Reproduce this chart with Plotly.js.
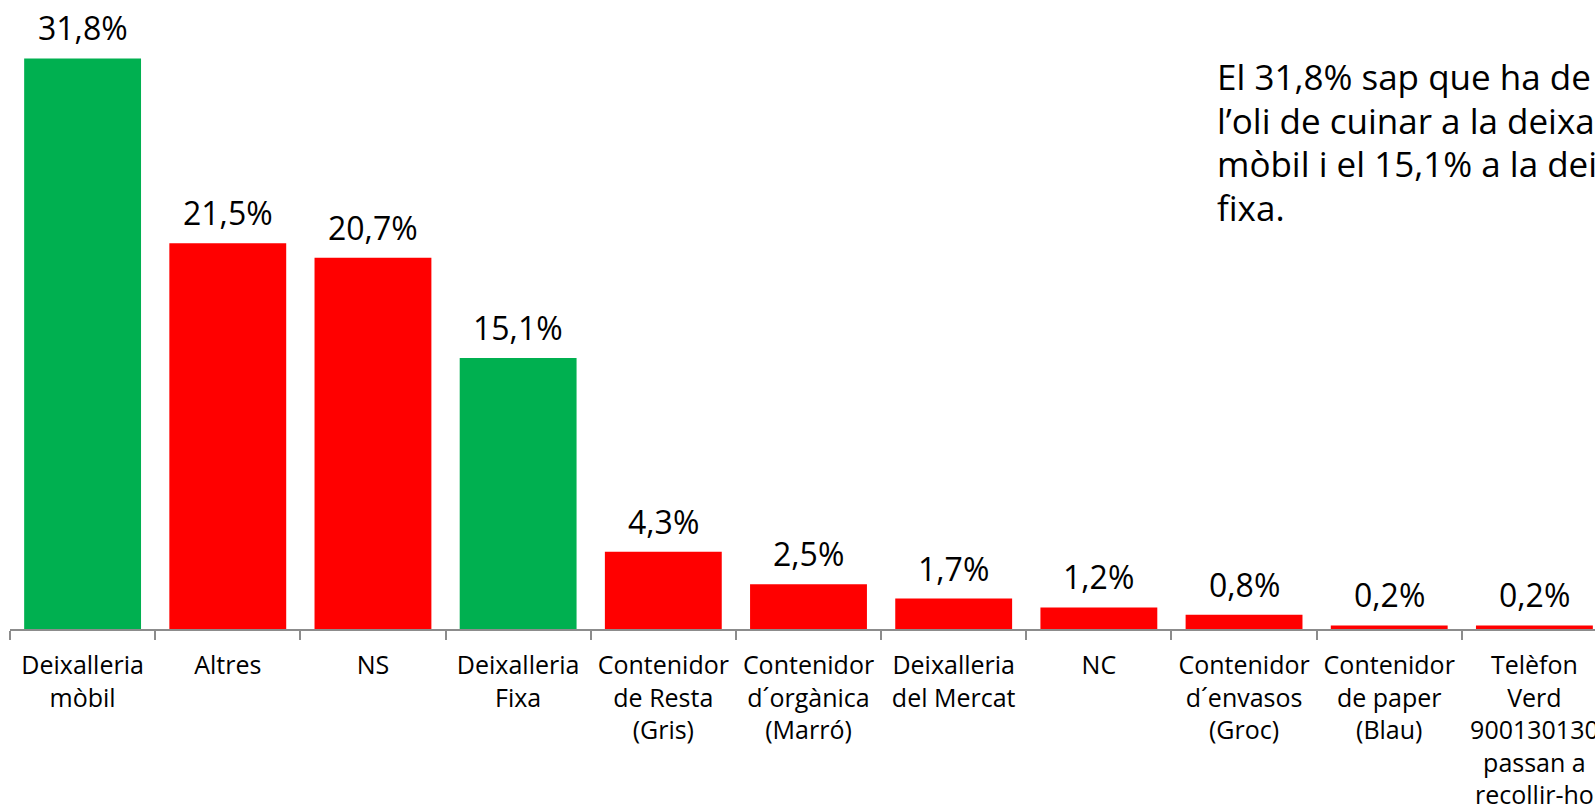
<!DOCTYPE html>
<html>
<head>
<meta charset="utf-8">
<script src="https://cdn.plot.ly/plotly-3.0.1.min.js"></script>
<style>
html,body{margin:0;padding:0;overflow:hidden;background:#fff;}
#chart{width:1620px;height:805px;}
</style>
</head>
<body>
<div id="chart"></div>
<script>
const categories = [
  "Deixalleria<br>mòbil",
  "Altres",
  "NS",
  "Deixalleria<br>Fixa",
  "Contenidor<br>de Resta<br>(Gris)",
  "Contenidor<br>d´orgànica<br>(Marró)",
  "Deixalleria<br>del Mercat",
  "NC",
  "Contenidor<br>d´envasos<br>(Groc)",
  "Contenidor<br>de paper<br>(Blau)",
  "Telèfon<br>Verd<br>900130130<br>passan a<br>recollir-ho"
];
const values = [31.8, 21.5, 20.7, 15.1, 4.3, 2.5, 1.7, 1.2, 0.8, 0.2, 0.2];
const valueLabels = ["31,8%", "21,5%", "20,7%", "15,1%", "4,3%", "2,5%", "1,7%", "1,2%", "0,8%", "0,2%", "0,2%"];
const isDeixalleriaMobilOrFixa = [true, false, false, true, false, false, false, false, false, false, false];
const noteLines = [
  "El 31,8% sap que ha de portar",
  "l’oli de cuinar a la deixalleria",
  "mòbil i el 15,1% a la deixalleria",
  "fixa."
];

const GREEN = "#00B050", RED = "#FF0000";
const FONT = "Open Sans, Noto Sans, sans-serif";

const trace = {
  type: "bar",
  x: categories,
  y: values,
  marker: {color: isDeixalleriaMobilOrFixa.map(g => g ? GREEN : RED), line: {width: 0}},
  hoverinfo: "skip"
};

const labelAnns = categories.map((c, i) => ({
  x: c, y: values[i], xref: "x", yref: "y",
  text: valueLabels[i], showarrow: false,
  xanchor: "center", yanchor: "bottom", yshift: 7,
  font: {family: FONT, size: 32, color: "#000"}
}));

const noteAnns = noteLines.map((t, i) => ({
  x: 0.7545, y: 0.8787 - i * 0.0697, xref: "paper", yref: "paper",
  text: t, showarrow: false, xanchor: "left", yanchor: "middle",
  font: {family: FONT, size: 35, color: "#000"}
}));

const layout = {
  width: 1620, height: 805,
  margin: {l: 10, r: 13, t: 0, b: 176, pad: 0},
  paper_bgcolor: "#fff", plot_bgcolor: "#fff",
  bargap: 0.195,
  showlegend: false,
  xaxis: {
    type: "category",
    showline: true, linecolor: "#8c8c8c", linewidth: 2,
    ticks: "outside", tickson: "boundaries", ticklen: 9, tickwidth: 2, tickcolor: "#8c8c8c",
    tickfont: {family: FONT, size: 25, color: "#000"},
    ticklabelstandoff: 13,
    showgrid: false, zeroline: false, fixedrange: true
  },
  yaxis: {
    range: [0, 35.06], visible: false, showgrid: false, zeroline: false, fixedrange: true
  },
  annotations: labelAnns.concat(noteAnns)
};

Plotly.newPlot("chart", [trace], layout, {displayModeBar: false, staticPlot: true});
</script>
</body>
</html>
